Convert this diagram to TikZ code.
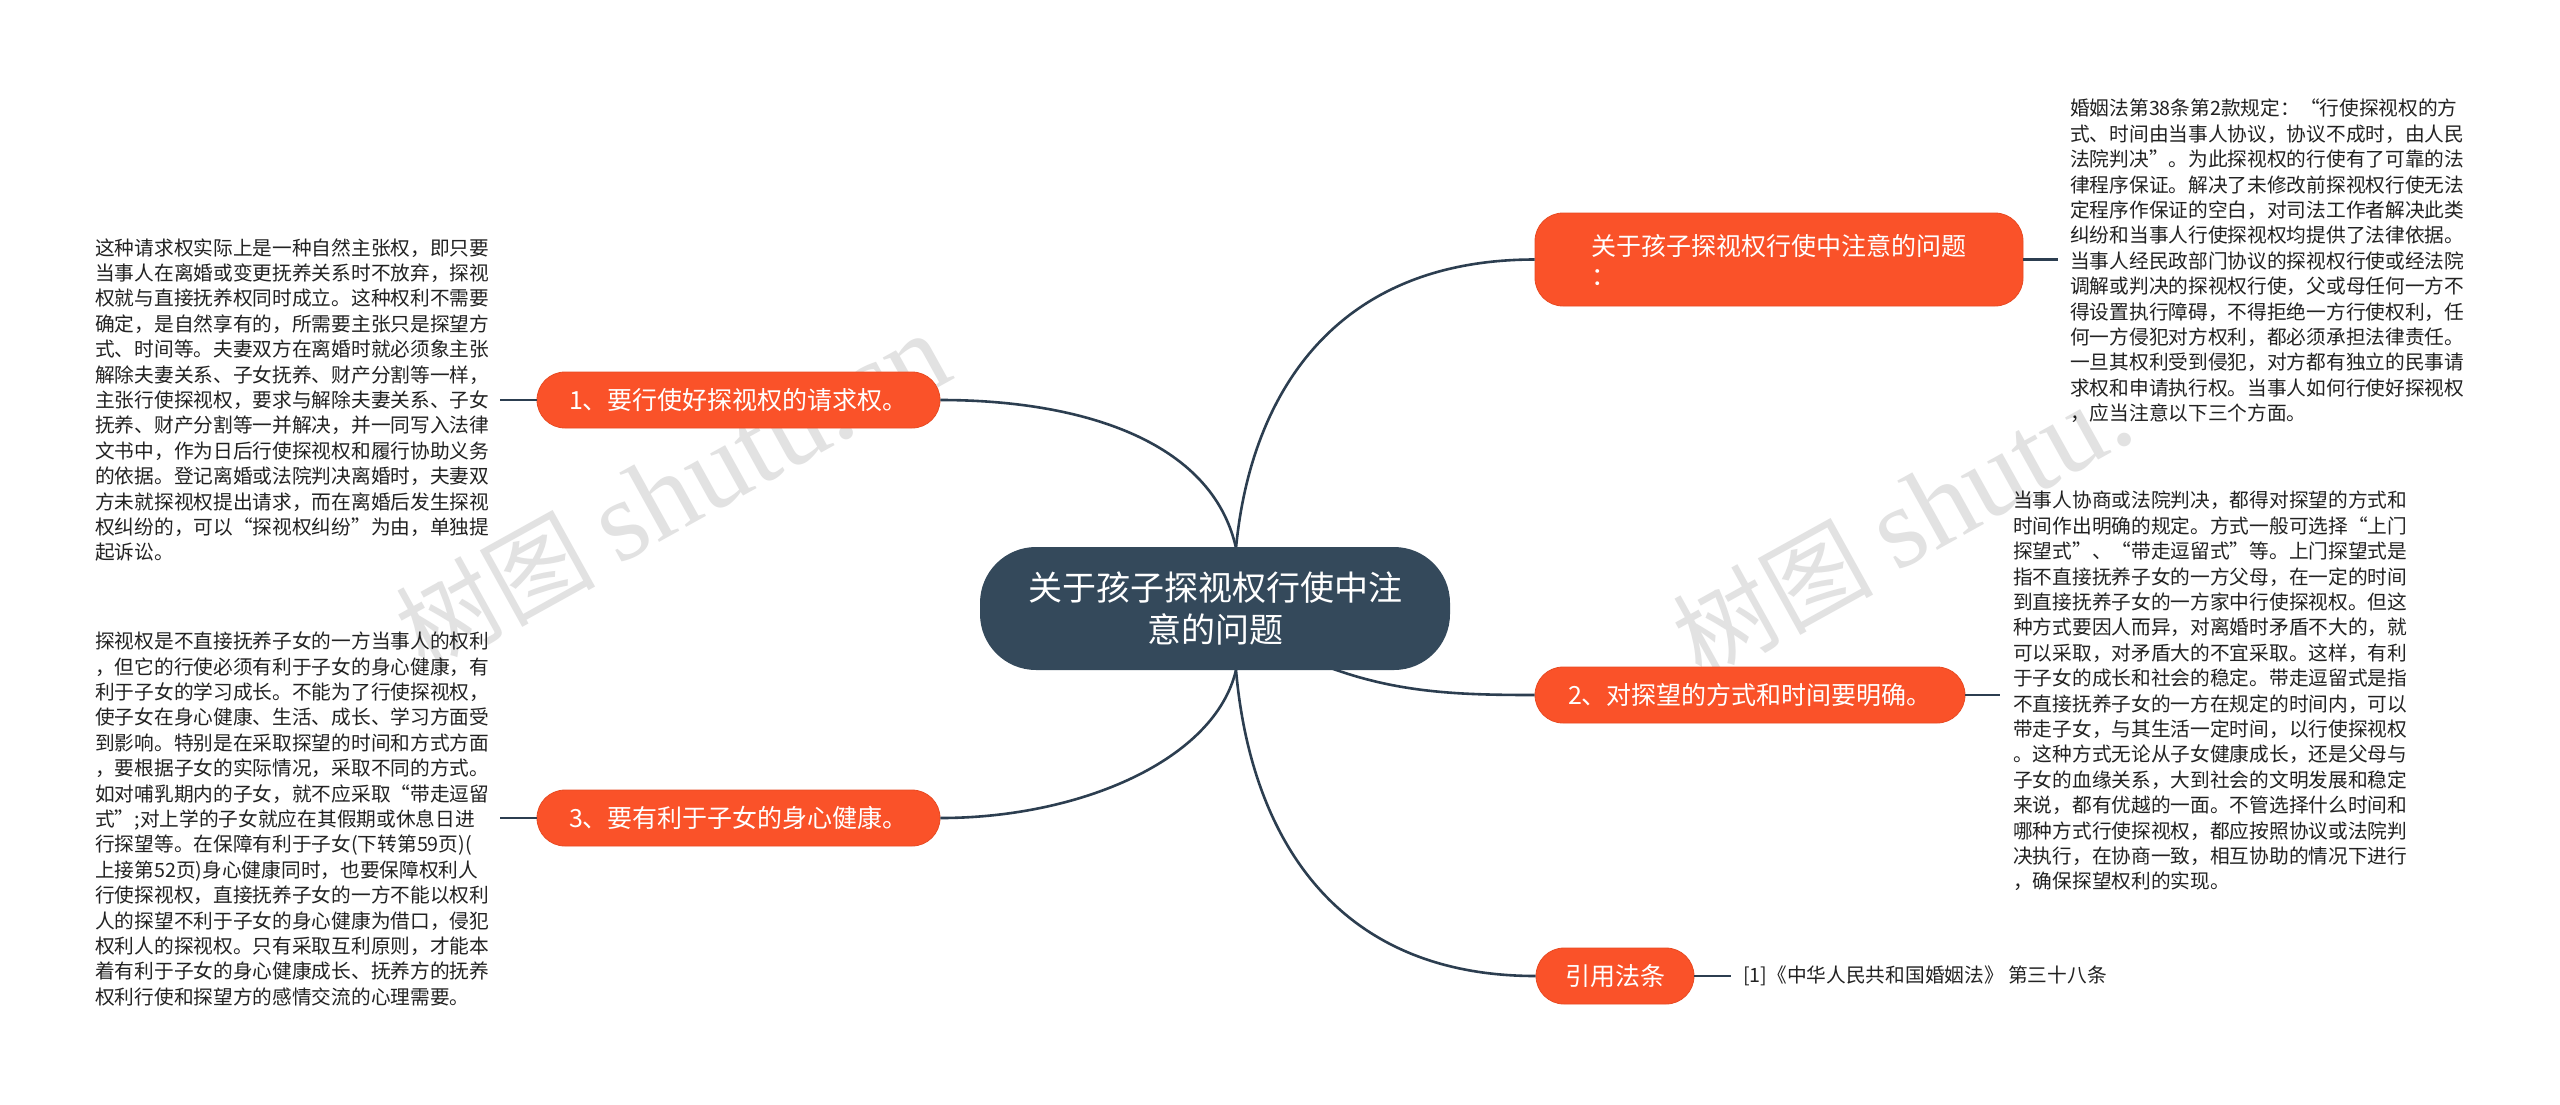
\documentclass[tikz,border=0pt]{standalone}
\usepackage{fontspec}
\setmainfont{Noto Sans CJK SC}
\newfontfamily\wmserif{Liberation Serif}
\definecolor{brorange}{HTML}{FA5229}
\definecolor{brborder}{HTML}{E84A22}
\definecolor{centerdark}{HTML}{34495B}
\definecolor{linkdark}{HTML}{2C3E50}
\definecolor{leaftext}{HTML}{222222}
\definecolor{wmgray}{HTML}{E2E2E2}
\tikzset{
  pill/.style={draw=brborder, line width=0.8pt, fill=brorange, text=white, rounded corners=28pt,
    minimum height=56pt, inner sep=0pt, font=\fontsize{25}{30}\selectfont},
  centerbox/.style={fill=centerdark, text=white, rounded corners=56pt, minimum width=470pt,
    minimum height=123pt, inner sep=0pt, align=center, font=\fontsize{34}{42}\selectfont},
  leaf/.style={anchor=west, align=left, inner sep=0pt, text=leaftext, font=\fontsize{19.7}{25.4}\selectfont},
  link/.style={draw=linkdark, line width=2.6pt},
  wm/.style={text=wmgray, inner sep=0pt, rotate=29, font=\fontsize{100}{105}\selectfont}
}
\begin{document}
\begin{tikzpicture}[x=1pt,y=-1pt]
\useasboundingbox[fill=white] (0,0) rectangle (2560,1104);

% watermarks
\node[wm] (wmA) at (672,492) {树图 {\wmserif\fontsize{115}{120}\selectfont shutu.cn}};
\node[wm] (wmB) at (1902,526) {树图 {\wmserif\fontsize{115}{120}\selectfont shutu.}};

% named anchor points for curves
\coordinate (ctop) at (1236,548);
\coordinate (cbot) at (1236,670);
\coordinate (cmid) at (1215,608);

% branch pills
\node[pill, minimum width=488pt, minimum height=93pt, align=left] (r1) at (1779,259.5)
  {关于孩子探视权行使中注意的问题\\：};
\node[pill, minimum width=430pt] (r2) at (1750,695) {2、对探望的方式和时间要明确。};
\node[pill, minimum width=158pt] (r3) at (1615,976) {引用法条};
\node[pill, minimum width=403pt] (l1) at (738.5,400) {1、要行使好探视权的请求权。};
\node[pill, minimum width=403pt] (l3) at (738.5,818) {3、要有利于子女的身心健康。};

% curved connectors from the central topic
\draw[link] (ctop) .. controls (1212,440) and (1080,400) .. (l1.east);
\draw[link] (ctop) .. controls (1250,400) and (1330,259.5) .. (r1.west);
\draw[link] (cbot) .. controls (1215,760) and (1080,818) .. (l3.east);
\draw[link] (cbot) .. controls (1250,830) and (1330,976) .. (r3.west);
\draw[link] (cmid) .. controls (1340,690) and (1420,695) .. (r2.west);

% central topic
\node[centerbox] (c) at (1215,608.5) {关于孩子探视权行使中注\\意的问题};

% leaves
\node[leaf] (t1) at (95,400) {这种请求权实际上是一种自然主张权，即只要\\
当事人在离婚或变更抚养关系时不放弃，探视\\
权就与直接抚养权同时成立。这种权利不需要\\
确定，是自然享有的，所需要主张只是探望方\\
式、时间等。夫妻双方在离婚时就必须象主张\\
解除夫妻关系、子女抚养、财产分割等一样，\\
主张行使探视权，要求与解除夫妻关系、子女\\
抚养、财产分割等一并解决，并一同写入法律\\
文书中，作为日后行使探视权和履行协助义务\\
的依据。登记离婚或法院判决离婚时，夫妻双\\
方未就探视权提出请求，而在离婚后发生探视\\
权纠纷的，可以“探视权纠纷”为由，单独提\\
起诉讼。};

\node[leaf] (t3) at (95,819) {探视权是不直接抚养子女的一方当事人的权利\\
，但它的行使必须有利于子女的身心健康，有\\
利于子女的学习成长。不能为了行使探视权，\\
使子女在身心健康、生活、成长、学习方面受\\
到影响。特别是在采取探望的时间和方式方面\\
，要根据子女的实际情况，采取不同的方式。\\
如对哺乳期内的子女，就不应采取“带走逗留\\
式”;对上学的子女就应在其假期或休息日进\\
行探望等。在保障有利于子女(下转第59页)(\\
上接第52页)身心健康同时，也要保障权利人\\
行使探视权，直接抚养子女的一方不能以权利\\
人的探望不利于子女的身心健康为借口，侵犯\\
权利人的探视权。只有采取互利原则，才能本\\
着有利于子女的身心健康成长、抚养方的抚养\\
权利行使和探望方的感情交流的心理需要。};

\node[leaf] (u1) at (2070,261) {婚姻法第38条第2款规定：“行使探视权的方\\
式、时间由当事人协议，协议不成时，由人民\\
法院判决”。为此探视权的行使有了可靠的法\\
律程序保证。解决了未修改前探视权行使无法\\
定程序作保证的空白，对司法工作者解决此类\\
纠纷和当事人行使探视权均提供了法律依据。\\
当事人经民政部门协议的探视权行使或经法院\\
调解或判决的探视权行使，父或母任何一方不\\
得设置执行障碍，不得拒绝一方行使权利，任\\
何一方侵犯对方权利，都必须承担法律责任。\\
一旦其权利受到侵犯，对方都有独立的民事请\\
求权和申请执行权。当事人如何行使好探视权\\
，应当注意以下三个方面。};

\node[leaf] (u2) at (2013,691) {当事人协商或法院判决，都得对探望的方式和\\
时间作出明确的规定。方式一般可选择“上门\\
探望式”、“带走逗留式”等。上门探望式是\\
指不直接抚养子女的一方父母，在一定的时间\\
到直接抚养子女的一方家中行使探视权。但这\\
种方式要因人而异，对离婚时矛盾不大的，就\\
可以采取，对矛盾大的不宜采取。这样，有利\\
于子女的成长和社会的稳定。带走逗留式是指\\
不直接抚养子女的一方在规定的时间内，可以\\
带走子女，与其生活一定时间，以行使探视权\\
。这种方式无论从子女健康成长，还是父母与\\
子女的血缘关系，大到社会的文明发展和稳定\\
来说，都有优越的一面。不管选择什么时间和\\
哪种方式行使探视权，都应按照协议或法院判\\
决执行，在协商一致，相互协助的情况下进行\\
，确保探望权利的实现。};

\node[leaf] (u3) at (1743,976) {[1]《中华人民共和国婚姻法》 第三十八条};

% leaf connectors
\draw[link] (l1.west) -- ([xshift=-37pt]l1.west);
\draw[link] (l3.west) -- ([xshift=-37pt]l3.west);
\draw[link] (r1.east) -- ([xshift=35pt]r1.east);
\draw[link] (r2.east) -- ([xshift=35pt]r2.east);
\draw[link] (r3.east) -- ([xshift=-12pt]u3.west);
\end{tikzpicture}
\end{document}
